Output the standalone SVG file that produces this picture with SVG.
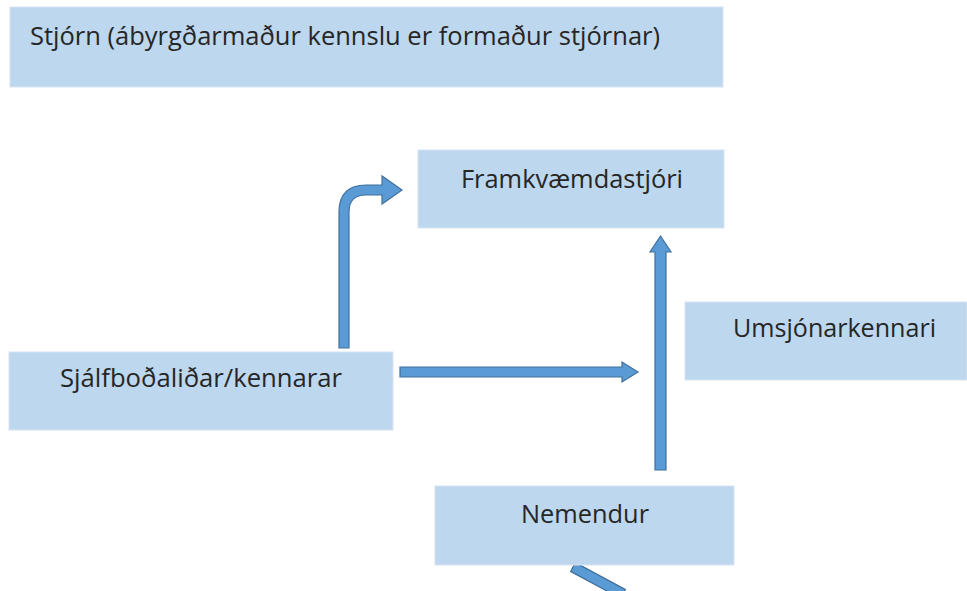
<svg xmlns="http://www.w3.org/2000/svg" width="967" height="591" viewBox="0 0 967 591">
<style>
.box{fill:#BDD7EE;stroke:#D6E4F2;stroke-width:1}
.lbl{font-family:"Open Sans","Liberation Sans",sans-serif;font-size:25.5px;fill:#262626}
.arr{fill:#5B9BD5;stroke:#41719C;stroke-width:1.2;stroke-linejoin:miter}
</style>
<rect width="967" height="591" fill="#FFFFFF"/>
<g id="connectors">
<path class="arr" d="M339,348 L339,212 Q339,185 366,185 L382,185 L382,176 L402,190 L382,204 L382,195 L366,195 Q349,195 349,212 L349,348 Z"/>
<path class="arr" d="M400,367 L622,367 L622,362 L638,372 L622,382 L622,377 L400,377 Z"/>
<path class="arr" d="M655,470 L655,252 L650,252 L660.5,236 L671,252 L666,252 L666,470 Z"/>
<path class="arr" d="M575.4,562.6 L625.4,589.6 L620.6,598.4 L570.6,571.4 Z"/>
</g>
<g id="stjorn">
<rect class="box" x="10" y="7" width="713" height="80"/>
<text class="lbl" x="30" y="44.5" textLength="630" lengthAdjust="spacingAndGlyphs">Stjórn (ábyrgðarmaður kennslu er formaður stjórnar)</text>
</g>
<g id="framkvaemdastjori">
<rect class="box" x="418" y="150" width="306" height="78"/>
<text class="lbl" x="461" y="187.5" textLength="222" lengthAdjust="spacingAndGlyphs">Framkvæmdastjóri</text>
</g>
<g id="umsjonarkennari">
<rect class="box" x="685" y="302" width="282" height="78"/>
<text class="lbl" x="733" y="337" textLength="203" lengthAdjust="spacingAndGlyphs">Umsjónarkennari</text>
</g>
<g id="sjalfbodalidar">
<rect class="box" x="9" y="352" width="384" height="78"/>
<text class="lbl" x="60" y="387" textLength="282" lengthAdjust="spacingAndGlyphs">Sjálfboðaliðar/kennarar</text>
</g>
<g id="nemendur">
<rect class="box" x="435" y="486" width="299" height="79"/>
<text class="lbl" x="521" y="523" textLength="128" lengthAdjust="spacingAndGlyphs">Nemendur</text>
</g>
</svg>
